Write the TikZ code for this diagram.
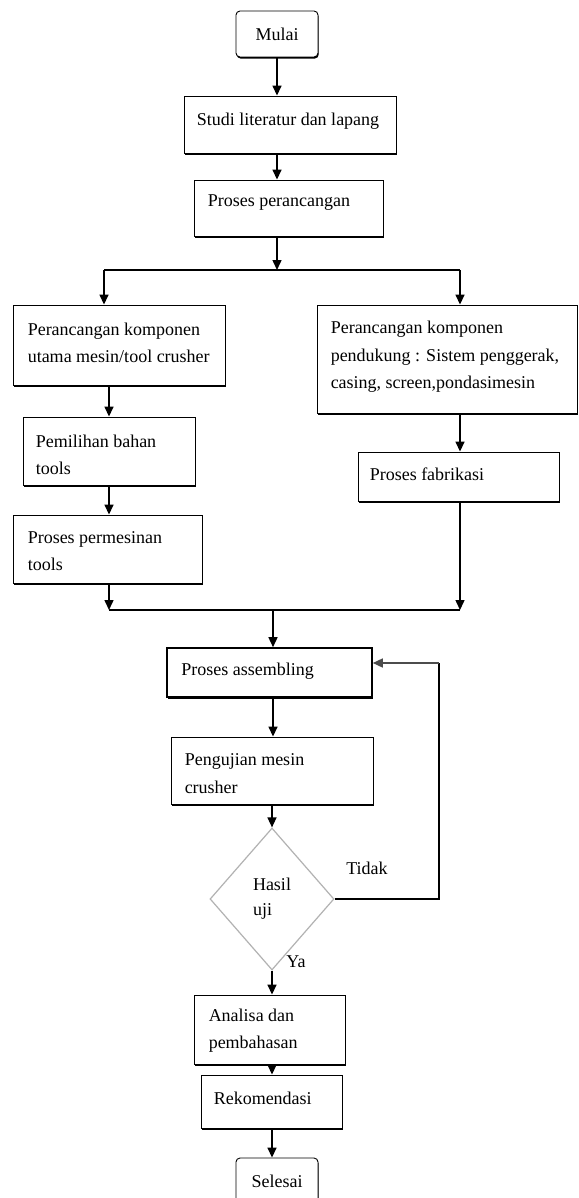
\documentclass[tikz,border=0pt]{standalone}
\usepackage{fontspec}
\setmainfont{Liberation Serif}
\usetikzlibrary{arrows.meta,shapes.geometric,shadows}
\begin{document}
\begin{tikzpicture}[x=1pt,y=-1pt,
  every node/.style={font=\fontsize{18}{27.5}\selectfont},
  box/.style={draw=black, fill=white, line width=0.9pt, inner sep=0pt,
     drop shadow={shadow xshift=0.7pt, shadow yshift=-1.6pt, fill=black, opacity=1}},
  rbox/.style={box, rounded corners=4pt},
  txt/.style={anchor=west, align=left, inner sep=0pt},
  arr/.style={line width=1.5pt, -{Triangle[width=9pt,length=10pt]}},
  ln/.style={line width=1.5pt},
  dec/.style={diamond, draw=gray!60, line width=1.2pt, align=left, inner sep=0pt,
     font=\fontsize{18}{25}\selectfont}]
\path[use as bounding box, fill=white] (0,0) rectangle (578,1198);

% boxes
\node[rbox, minimum width=82pt, minimum height=46pt] (mulai) at (277,34) {Mulai};
\node[box, minimum width=212pt, minimum height=57pt] (studi) at (290,124.5) {};
\node[box, minimum width=189pt, minimum height=56pt] (proses) at (288.5,208) {};
\node[box, minimum width=212pt, minimum height=80pt] (left1) at (119,345) {};
\node[box, minimum width=260pt, minimum height=108pt] (right1) at (447,359) {};
\node[box, minimum width=172pt, minimum height=68pt] (left2) at (109,451) {};
\node[box, minimum width=189pt, minimum height=68pt] (left3) at (107.5,549) {};
\node[box, minimum width=201pt, minimum height=49pt] (right2) at (458.5,476.5) {};
\node[box, line width=1.6pt, minimum width=205pt, minimum height=49pt] (asm) at (269.5,672.5) {};
\node[box, minimum width=202pt, minimum height=67pt] (uji) at (272,770.5) {};
\node[dec, minimum width=124pt, minimum height=142pt] (dia) at (272,899) {Hasil\\uji};
\node[box, minimum width=151pt, minimum height=69pt] (analisa) at (269.5,1029.5) {};
\node[box, minimum width=141pt, minimum height=53pt] (rek) at (271.5,1101.5) {};
\node[rbox, minimum width=82pt, minimum height=46pt] (selesai) at (277,1181) {Selesai};

% box texts
\node[txt] (studi-t) at ([xshift=13pt,yshift=3pt]studi.west) {Studi literatur dan lapang};
\node[txt] (proses-t) at ([xshift=14pt,yshift=5pt]proses.west) {Proses perancangan};
\node[txt] (left1-t) at ([xshift=15pt,yshift=2pt]left1.west) {Perancangan komponen\\utama mesin/tool crusher};
\node[txt] (right1-t) at ([xshift=14pt,yshift=2pt]right1.west) {Perancangan komponen\\pendukung : Sistem penggerak,\\casing, screen,pondasimesin};
\node[txt] (left2-t) at ([xshift=13pt,yshift=-4pt]left2.west) {Pemilihan bahan\\tools};
\node[txt] (left3-t) at ([xshift=15pt,yshift=-2pt]left3.west) {Proses permesinan\\tools};
\node[txt] (right2-t) at ([xshift=12pt,yshift=2pt]right2.west) {Proses fabrikasi};
\node[txt] (asm-t) at ([xshift=15pt,yshift=1pt]asm.west) {Proses assembling};
\node[txt] (uji-t) at ([xshift=14pt,yshift=-3pt]uji.west) {Pengujian mesin\\crusher};
\node[txt] (analisa-t) at ([xshift=15pt,yshift=-1pt]analisa.west) {Analisa dan\\pembahasan};
\node[txt] (rek-t) at ([xshift=13pt,yshift=3pt]rek.west) {Rekomendasi};

\node (tidak) at (367,868) {Tidak};
\node (ya) at (296,962) {Ya};

% coordinates
\coordinate (sp) at (277,270);
\coordinate (sl) at (104,270);
\coordinate (sr) at (460,270);
\coordinate (jl) at (109,610);
\coordinate (jr) at (460,610);
\coordinate (jc) at (273,610);
\coordinate (fb) at (439,663);

% connectors
\draw[arr] (mulai) -- (studi.north -| mulai);
\draw[arr] (studi.south -| mulai) -- (proses.north -| mulai);
\draw[arr] (proses.south -| mulai) -- (sp);
\draw[ln] (sl) -- (sr);
\draw[arr] (sl) -- (sl |- left1.north);
\draw[arr] (sr) -- (sr |- right1.north);
\draw[arr] (left1.south -| left2) -- (left2);
\draw[arr] (left2) -- (left2 |- left3.north);
\draw[arr] (left3.south -| jl) -- (jl);
\draw[arr] (right1.south -| sr) -- (right2.north -| sr);
\draw[arr] (right2.south -| sr) -- (jr);
\draw[ln] (jl) -- (jr);
\draw[arr] (jc) -- (asm.north -| jc);
\draw[arr] (asm.south -| jc) -- (uji.north -| jc);
\draw[arr] (uji.south -| dia) -- (dia.north);
\draw[arr] (dia.south) -- (analisa.north -| dia.south);
\draw[arr] (analisa.south -| dia) -- (rek.north -| dia);
\draw[arr] (rek.south -| dia) -- (selesai.north -| dia);
\draw[ln] (dia.east) -| (fb);
\draw[arr, draw=black!70] (fb) -- (fb -| asm.east);
\end{tikzpicture}
\end{document}
